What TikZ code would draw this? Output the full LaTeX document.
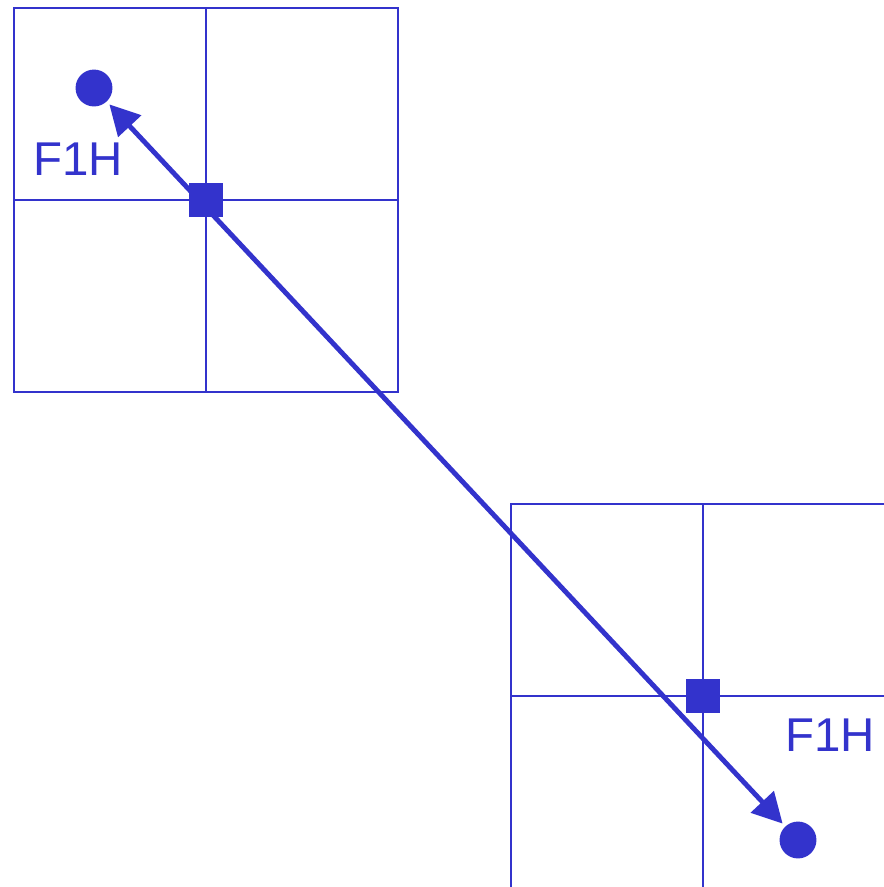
\documentclass[tikz,border=0pt]{standalone}
\usepackage{fontspec}
\setmainfont{Liberation Sans}
\usetikzlibrary{arrows.meta}
\definecolor{fmelyna}{RGB}{51,51,204}

\begin{document}
\begin{tikzpicture}[x=0.02cm, y=-0.02cm,
    tinklas/.style={fmelyna, line width=1.4pt},
    taskas/.style={circle, fill=fmelyna, minimum size=21pt, inner sep=0pt, outer sep=2.3pt},
    kvadratas/.style={rectangle, fill=fmelyna, minimum size=19.8pt, inner sep=0pt},
    zyme/.style={text=fmelyna, font=\fontsize{27}{32}\selectfont, inner sep=0pt},
    rodykle/.style={fmelyna, line width=2.8pt,
      {Triangle[length=17pt,width=17.5pt]}-{Triangle[length=17pt,width=17.5pt]}}]
        \useasboundingbox (0,0) rectangle (884,887);
        \clip (0,0) rectangle (884,887);

        % Tinklai (pusė kraštinės)
        \def\h{192}
        \coordinate (c1) at (206,200);
        \coordinate (c2) at (703,696);
        \foreach \c in {c1,c2}{
            \draw[tinklas] (\c) ++(-\h,-\h) rectangle ++(2*\h,2*\h);
            \draw[tinklas] (\c) ++(-\h,0) -- ++(2*\h,0);
            \draw[tinklas] (\c) ++(0,-\h) -- ++(0,2*\h);
        }

        % Taškai
        \node[taskas] (t1) at (94,88) {};
        \node[taskas] (t2) at (798,840) {};

        % Rodyklė tarp taškų
        \draw[rodykle] (t1) -- (t2);

        % Kvadratai tinklų centruose
        \node[kvadratas] (k1) at (c1) {};
        \node[kvadratas] (k2) at (c2) {};

        % Užrašai
        \node[zyme] (u1) at (78,159) {F1H};
        \node[zyme] (u2) at (830,735) {F1H};
    \end{tikzpicture}
\end{document}
